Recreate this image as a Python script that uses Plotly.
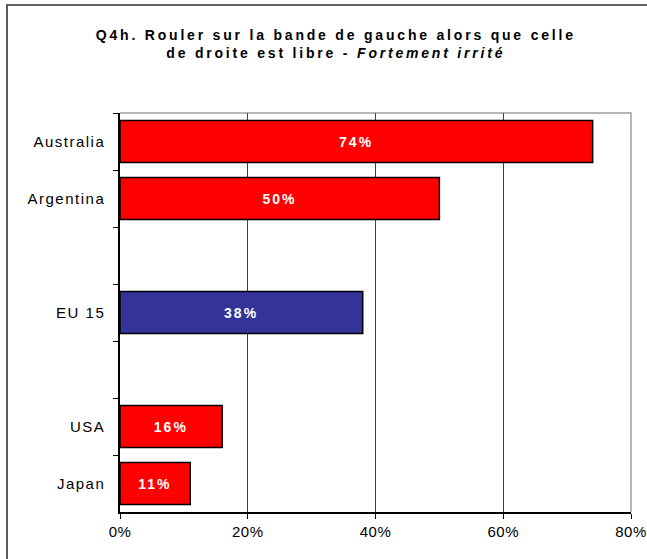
import plotly.graph_objects as go

# Survey answers: share "fortement irrité", blank rows separate the groups
countries = ["Australia", "Argentina", " ", "EU 15", "  ", "USA", "Japan"]
shares = [74, 50, None, 38, None, 16, 11]
bar_colors = ["#FF0000", "#FF0000", "#FF0000", "#333399", "#FF0000", "#FF0000", "#FF0000"]
x_ticks = [0, 20, 40, 60, 80]
x_tick_labels = ["0%", "20%", "40%", "60%", "80%"]

W, H = 647, 559
L, R, T, B = 120, 16, 113, 47
pw, ph = W - L - R, H - T - B


def px_to_paper(x, y):
    return (x - L) / pw, (H - B - y) / ph


fig = go.Figure(
    go.Bar(
        y=countries,
        x=shares,
        orientation="h",
        marker=dict(color=bar_colors, line=dict(color="#000000", width=1.5)),
        text=[f"{v}%" if v is not None else "" for v in shares],
        textposition="inside",
        insidetextanchor="middle",
        textangle=0,
        textfont=dict(family="Liberation Sans, Arial", size=14, color="white", weight="bold"),
        width=0.74,
        hoverinfo="skip",
    )
)

# Outer frame of the chart (left and top edges)
fx0, fy1 = px_to_paper(7, 5)
fx1, fy0 = px_to_paper(660, 575)
fig.add_shape(
    type="path",
    path=f"M {fx0} {fy0} L {fx0} {fy1} L {fx1} {fy1}",
    xref="paper", yref="paper",
    line=dict(color="#333333", width=1.6),
)
# Light border on the top and right of the plot area
fig.add_shape(
    type="path",
    path="M 0 1 L 1 1 L 1 0",
    xref="paper", yref="paper",
    line=dict(color="#A0A0A0", width=1.5),
    layer="below",
)

fig.update_layout(
    width=W, height=H,
    margin=dict(l=L, r=R, t=T, b=B, autoexpand=False),
    paper_bgcolor="white",
    plot_bgcolor="white",
    showlegend=False,
    title=dict(
        text="Q4h. Rouler sur la bande de gauche alors que celle<br>"
             "de droite est libre - <i>Fortement irrité</i>",
        x=0.519, xref="container", xanchor="center",
        y=1 - 40 / H, yref="container", yanchor="top",
        font=dict(family="Liberation Sans, Arial", size=14, color="#000000", weight="bold"),
    ),
    xaxis=dict(
        range=[0, 80],
        tickvals=x_ticks,
        ticktext=x_tick_labels,
        showgrid=True,
        gridcolor="#404040",
        gridwidth=1,
        showline=True,
        linecolor="#000000",
        linewidth=1.5,
        ticks="outside",
        ticklen=5,
        tickcolor="#000000",
        tickfont=dict(family="Liberation Sans, Arial", size=15, color="#000000"),
        zeroline=False,
        fixedrange=True,
        automargin=False,
    ),
    yaxis=dict(
        categoryorder="array",
        categoryarray=countries,
        autorange="reversed",
        showline=True,
        linecolor="#000000",
        linewidth=1.5,
        ticks="outside",
        tickson="boundaries",
        ticklen=5,
        tickcolor="#000000",
        ticklabelstandoff=10,
        tickfont=dict(family="Liberation Sans, Arial", size=15, color="#000000"),
        showgrid=False,
        zeroline=False,
        fixedrange=True,
        automargin=False,
    ),
)

# Widen the letter spacing of the titles and labels
spacing_js = """
var gd = document.getElementById('{plot_id}');
gd.querySelectorAll('.gtitle').forEach(function(e){ e.style.letterSpacing = '2.8px'; });
gd.querySelectorAll('.bartext').forEach(function(e){ e.style.letterSpacing = '2px'; });
gd.querySelectorAll('.ytick text').forEach(function(e){ e.style.letterSpacing = '1.5px'; });
gd.querySelectorAll('.xtick text').forEach(function(e){ e.style.letterSpacing = '0.5px'; });
"""

fig.write_html("out.html", config={"displayModeBar": False}, post_script=spacing_js)
